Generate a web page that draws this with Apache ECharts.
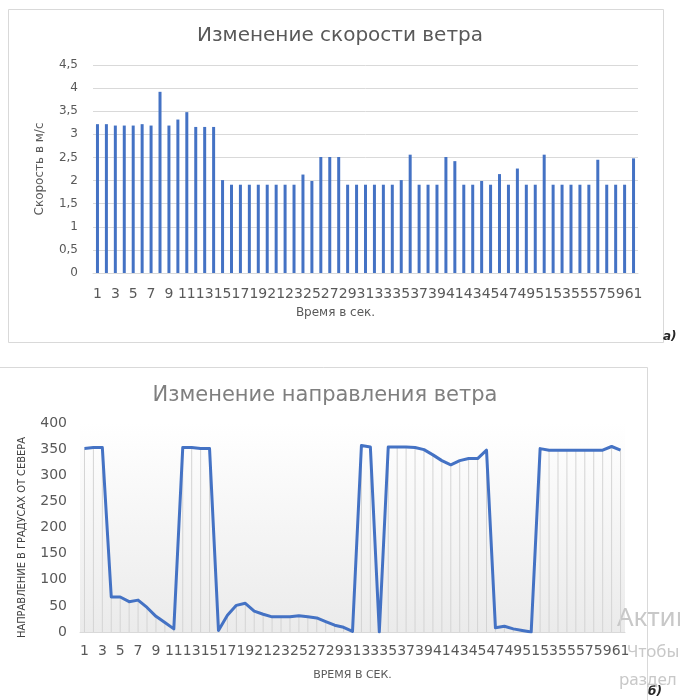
<!DOCTYPE html>
<html>
<head>
<meta charset="utf-8">
<script src="https://cdn.jsdelivr.net/npm/echarts@6/dist/echarts.min.js"></script>
<style>
  html, body { margin: 0; padding: 0; background: #fff; }
  #main { width: 680px; height: 700px; }
</style>
</head>
<body>
<div id="main"></div>
<script>
// секунды (подписи оси X)
let seconds = [1,2,3,4,5,6,7,8,9,10,11,12,13,14,15,16,17,18,19,20,21,22,23,24,25,26,27,28,29,30,
  31,32,33,34,35,36,37,38,39,40,41,42,43,44,45,46,47,48,49,50,51,52,53,54,55,56,57,58,59,60,61];
// скорость ветра, м/с
let speed = [3.22,3.22,3.19,3.19,3.19,3.22,3.19,3.92,3.19,3.32,3.48,3.16,3.16,3.16,2.01,
  1.91,1.91,1.91,1.91,1.91,1.91,1.91,1.91,2.13,1.99,2.51,2.51,2.51,
  1.91,1.91,1.91,1.91,1.91,1.91,2.01,2.56,1.91,1.91,1.91,2.51,2.42,1.91,1.91,1.99,1.91,2.14,
  1.91,2.26,1.91,1.91,2.56,1.91,1.91,1.91,1.91,1.91,2.45,1.91,1.91,1.91,2.48];
// направление ветра, градусы от севера
let direction = [351,353,353,67,67,58,61,47,30,18,6,353,353,351,351,
  3,32,51,55,40,34,29,29,29,31,29,27,20,13,9,1,357,354,0,
  354,354,354,353,349,339,328,320,328,332,332,348,
  8,11,6,3,0,351,348,348,348,348,348,348,348,355,348];
// деления осей Y
let speedTicks = { min: 0, max: 4.5, step: 0.5 };
let dirTicks = { min: 0, max: 400, step: 50 };

let labelColor = '#595959';
let blue = '#4472C4';

let myChart = echarts.init(document.getElementById('main'));
let option = {
  backgroundColor: '#fff',
  animation: false,
  title: [{
    text: 'Изменение скорости ветра',
    left: 335, top: 21, textAlign: 'center',
    textStyle: { fontFamily: 'DejaVu Sans', fontSize: 20, fontWeight: 'normal', color: labelColor }
  }, {
    text: 'Изменение направления ветра',
    left: 320, top: 380, textAlign: 'center',
    textStyle: { fontFamily: 'DejaVu Sans', fontSize: 21, fontWeight: 'normal', color: '#7f7f7f' }
  }],
  grid: [{
    left: 93, width: 545, top: 65, height: 208
  }, {
    left: 80, width: 545, top: 423, height: 209,
    show: true, borderWidth: 0,
    backgroundColor: new echarts.graphic.LinearGradient(0, 0, 0, 1, [
      { offset: 0, color: '#ffffff' },
      { offset: 1, color: '#ebebeb' }
    ])
  }],
  xAxis: [{
    type: 'category', gridIndex: 0, data: seconds,
    name: 'Время в сек.', nameLocation: 'middle', nameGap: 34,
    nameTextStyle: { fontFamily: 'DejaVu Sans', fontSize: 12, color: labelColor, padding: [0, 60, 0, 0] },
    axisLine: { lineStyle: { color: '#d9d9d9' } },
    axisTick: { show: false },
    axisLabel: { interval: 1, margin: 14, fontFamily: 'DejaVu Sans', fontSize: 14, color: labelColor }
  }, {
    type: 'category', gridIndex: 1, data: seconds,
    name: 'ВРЕМЯ В СЕК.', nameLocation: 'middle', nameGap: 38,
    nameTextStyle: { fontFamily: 'DejaVu Sans', fontSize: 11, color: labelColor },
    axisLine: { lineStyle: { color: '#d9d9d9' } },
    axisTick: { show: false },
    axisLabel: { interval: 1, margin: 12, fontFamily: 'DejaVu Sans', fontSize: 14, color: labelColor }
  }],
  yAxis: [{
    type: 'value', gridIndex: 0,
    min: speedTicks.min, max: speedTicks.max, interval: speedTicks.step,
    name: 'Скорость в м/с', nameLocation: 'middle', nameGap: 47,
    nameTextStyle: { fontFamily: 'DejaVu Sans', fontSize: 12, color: labelColor },
    axisLabel: {
      margin: 15, fontFamily: 'DejaVu Sans', fontSize: 12, color: labelColor,
      formatter: v => String(v).replace('.', ',')
    },
    splitLine: { lineStyle: { color: '#d9d9d9' } }
  }, {
    type: 'value', gridIndex: 1,
    min: dirTicks.min, max: dirTicks.max, interval: dirTicks.step,
    name: 'НАПРАВЛЕНИЕ В ГРАДУСАХ ОТ СЕВЕРА', nameLocation: 'middle', nameGap: 52,
    nameTextStyle: { fontFamily: 'DejaVu Sans Condensed', fontSize: 11, color: '#404040', padding: [0, 20, 0, 0] },
    axisLabel: { margin: 13, fontFamily: 'DejaVu Sans', fontSize: 14, color: labelColor },
    splitLine: { show: false }
  }],
  series: [{
    type: 'bar', xAxisIndex: 0, yAxisIndex: 0,
    data: speed, barWidth: 3,
    itemStyle: { color: blue }
  }, {
    // линии проекции (drop lines)
    type: 'bar', xAxisIndex: 1, yAxisIndex: 1,
    data: direction, barWidth: 1,
    itemStyle: { color: '#d4d4d4' }
  }, {
    type: 'line', xAxisIndex: 1, yAxisIndex: 1,
    data: direction, symbol: 'none',
    lineStyle: { color: blue, width: 3, join: 'round' }
  }],
  graphic: [
    { type: 'rect', shape: { x: 8.5, y: 9.5, width: 655, height: 333 },
      style: { fill: 'none', stroke: '#d9d9d9', lineWidth: 1 } },
    { type: 'rect', shape: { x: -2, y: 367.5, width: 649.5, height: 340 },
      style: { fill: 'none', stroke: '#d9d9d9', lineWidth: 1 } },
    { type: 'text', left: 663, top: 331,
      style: { text: 'а)', font: 'italic bold 12px DejaVu Sans', fill: '#262626' } },
    { type: 'text', left: 648, top: 686,
      style: { text: 'б)', font: 'italic bold 12px DejaVu Sans', fill: '#262626' } },
    { type: 'text', left: 617, top: 606,
      style: { text: 'Активация Windows', font: '26px Noto Sans', fill: '#c8c8c8' } },
    { type: 'text', left: 627, top: 644,
      style: { text: 'Чтобы активировать Windows', font: '17px Noto Sans', fill: '#c8c8c8' } },
    { type: 'text', left: 619, top: 672,
      style: { text: 'раздел', font: '17px Noto Sans', fill: '#c8c8c8' } }
  ]
};
myChart.setOption(option);
</script>
</body>
</html>
